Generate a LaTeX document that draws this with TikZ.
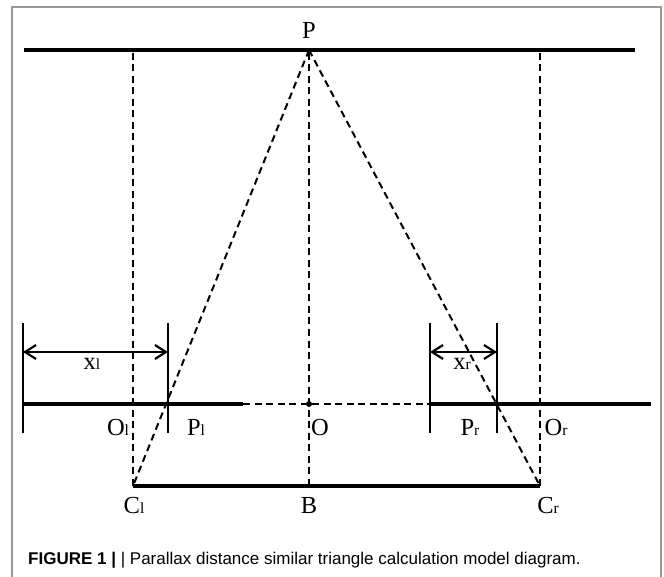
\documentclass[tikz,border=0pt]{standalone}
\usepackage{fontspec}
\setmainfont{Liberation Serif}
\newfontfamily\capfont{Liberation Sans}
\usetikzlibrary{arrows.meta}
\newcommand\lsub[1]{{\fontsize{15.5pt}{15.5pt}\selectfont #1}}
\begin{document}
\begin{tikzpicture}[x=1pt,y=-1pt,
  thickline/.style={line width=3.3pt},
  tickline/.style={line width=1.7pt},
  dashline/.style={line width=2pt, dash pattern=on 7pt off 4.5pt},
  lbl/.style={anchor=base, inner sep=0pt, font=\fontsize{24.5pt}{24.5pt}\selectfont},
  dimline/.style={line width=2.2pt, {Straight Barb[length=11pt,width=14pt]}-{Straight Barb[length=11pt,width=14pt]}},
  framestyle/.style={draw=black!40, line width=1.5pt}]
\useasboundingbox (0,0) rectangle (664,577);
% frame
\coordinate (fbl) at (12,585);
\coordinate (ftl) at (12,7);
\coordinate (ftr) at (661,7);
\coordinate (fbr) at (661,585);
\draw[framestyle] (fbl) -- (ftl) -- (ftr) -- (fbr);
% key points
\coordinate (TL) at (24,50);
\coordinate (TR) at (635,50);
\coordinate (P) at (309,50);
\coordinate (Ltop) at (133,53);
\coordinate (Mtop) at (309,53);
\coordinate (Rtop) at (540,53);
\coordinate (Cl) at (133,486);
\coordinate (B) at (309,486);
\coordinate (Cr) at (540,486);
\coordinate (ML) at (23,404);
\coordinate (MA) at (243,404);
\coordinate (MB) at (429,404);
\coordinate (MR) at (651,404);
\coordinate (O) at (309,404);
% ticks
\coordinate (t1a) at (23,323);  \coordinate (t1b) at (23,433);
\coordinate (t2a) at (168,323); \coordinate (t2b) at (168,433);
\coordinate (t3a) at (430,323); \coordinate (t3b) at (430,433);
\coordinate (t4a) at (497,323); \coordinate (t4b) at (497,433);
\coordinate (xla) at (23,352);  \coordinate (xlb) at (168,352);
\coordinate (xra) at (430,352); \coordinate (xrb) at (497,352);
% solid lines
\draw[thickline] (TL) -- (TR);
\draw[thickline] (Cl) -- (Cr);
\draw[thickline] (ML) -- (MA);
\draw[thickline] (MB) -- (MR);
\draw[dashline] (MA) -- (MB);
% dashed verticals and diagonals
\draw[dashline] (Ltop) -- (Cl);
\draw[dashline] (Mtop) -- (B);
\draw[dashline] (Rtop) -- (Cr);
\draw[dashline] (P) -- (Cl);
\draw[dashline] (P) -- (Cr);
% ticks
\draw[tickline] (t1a) -- (t1b);
\draw[tickline] (t2a) -- (t2b);
\draw[tickline] (t3a) -- (t3b);
\draw[tickline] (t4a) -- (t4b);
% dimension arrows
\draw[dimline] (xla) -- (xlb);
\draw[dimline] (xra) -- (xrb);
% dot
\fill (O) circle (3pt);
% labels
\node[lbl] (lP) at (309,39) {P};
\node[lbl] (lxl) at (92,370) {x\lsub{l}};
\node[lbl] (lxr) at (462,370) {x\lsub{r}};
\node[lbl] (lOl) at (118,435) {O\lsub{l}};
\node[lbl] (lPl) at (196,435) {P\lsub{l}};
\node[lbl] (lO) at (320,435) {O};
\node[lbl] (lPr) at (470,435) {P\lsub{r}};
\node[lbl] (lOr) at (556,435) {O\lsub{r}};
\node[lbl] (lCl) at (134,513) {C\lsub{l}};
\node[lbl] (lB) at (309,513) {B};
\node[lbl] (lCr) at (548,513) {C\lsub{r}};
% caption
\node[anchor=base west, inner sep=0pt, font=\capfont\fontsize{17pt}{17pt}\selectfont] (cap) at (28,564)
  {\textbf{FIGURE 1 |} | Parallax distance similar triangle calculation model diagram.};
\end{tikzpicture}
\end{document}
